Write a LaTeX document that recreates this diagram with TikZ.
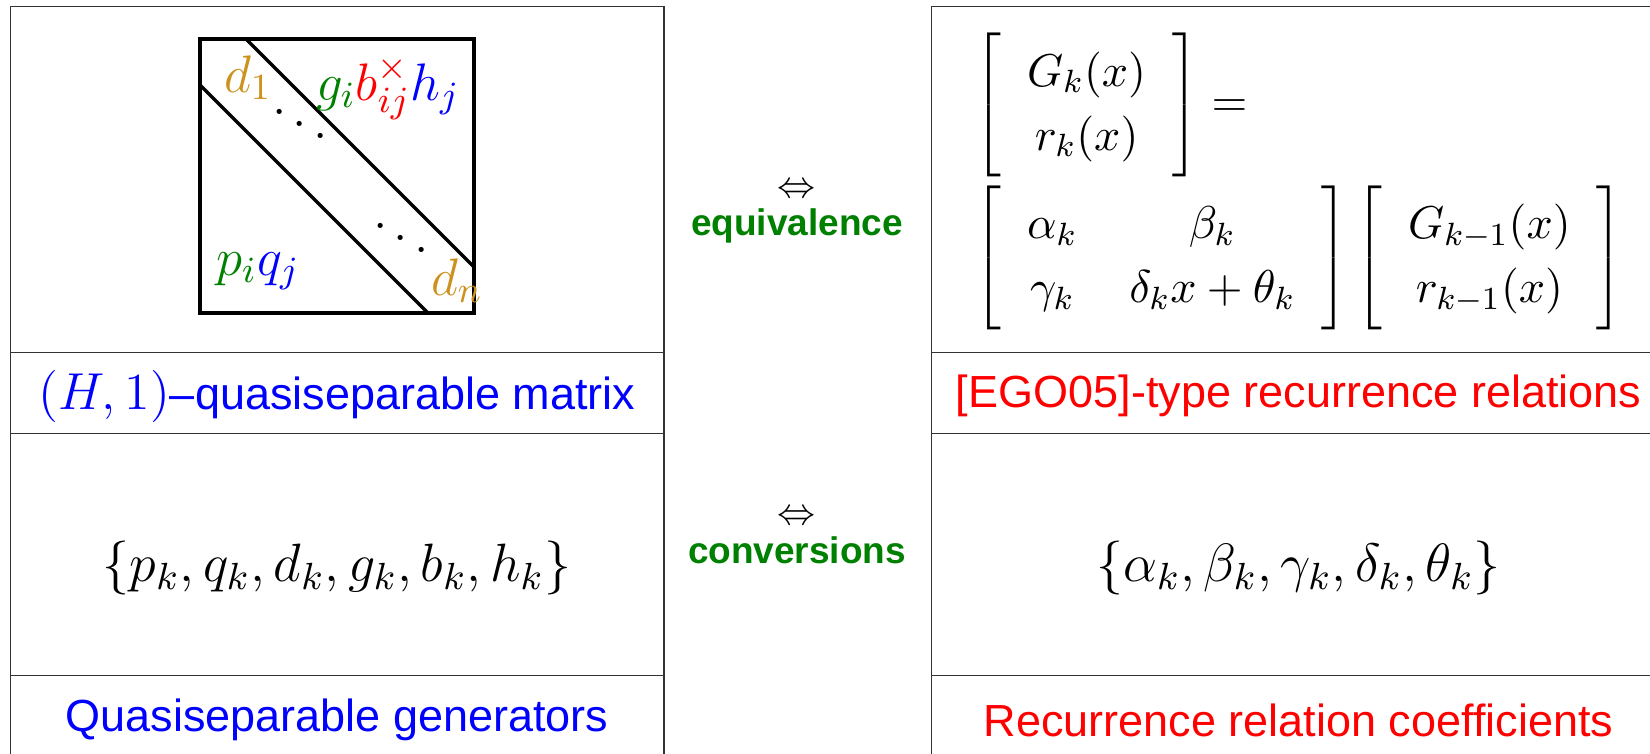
\RequirePackage{fix-cm}
\documentclass[tikz,border=0pt]{standalone}
\usepackage{fontspec}
\setsansfont{Liberation Sans}
\usetikzlibrary{positioning}

\definecolor{grn}{RGB}{0,128,0}
\definecolor{gld}{RGB}{205,145,30}
\newcommand\eqset{\arraycolsep=6.5pt\relax\delimiterfactor=1000\relax\delimitershortfall=0pt\relax}

\begin{document}
\begin{tikzpicture}[x=0.25pt,y=-0.25pt,
    cell/.style={draw=black!80,line width=0.4pt},
    ttl/.style={inner sep=0pt,font=\fontsize{11.25}{13.5}\sffamily},
    gen/.style={inner sep=0pt,font=\fontsize{13.5}{16}\selectfont},
    lbl/.style={inner sep=0pt,anchor=base,font=\fontsize{13.2}{15}\selectfont},
    rel/.style={inner sep=0pt,text=grn,font=\fontsize{9.25}{11}\sffamily\bfseries},
    eqn/.style={inner sep=0pt,font=\fontsize{11.5}{16}\selectfont}]
    \useasboundingbox (0,0) rectangle (1650,753);
    \clip (0,0) rectangle (1650,753);
    %
    % table
    \draw[cell] (10.5,6.3) rectangle (664,790);
    \draw[cell] (931.3,6.3) rectangle (1690,790);
    \foreach \y in {352.5,433.5,675.6}{
        \draw[cell] (10.5,\y) -- (664,\y);
        \draw[cell] (931.3,\y) -- (1690,\y);
    }
    %
    % the matrix
    \coordinate (M1) at (200,39);
    \coordinate (M2) at (474,313);
    \coordinate (U1) at (246,39);
    \coordinate (U2) at (474,267);
    \coordinate (D1) at (200,85);
    \coordinate (D2) at (428,313);
    \begin{scope}[thick]
        \draw (M1) rectangle (M2);
        \draw (U1) -- (U2);
        \draw (D1) -- (D2);
    \end{scope}
    \node[lbl,text=gld] (d1) at (248,92) {$d_1$};
    \node[lbl] (gbh) at (388,100) {$\color{grn}g_i\color{red}b_{ij}^{\times}\color{blue}h_j$};
    \node[lbl] (pq) at (258,275) {$\color{grn}p_i\color{blue}q_j$};
    \node[lbl,text=gld] (dn) at (457,295) {$d_n$};
    \node[lbl,anchor=center] (dd1) at (300,112) {$\ddots$};
    \node[lbl,anchor=center] (dd2) at (401,226) {$\ddots$};
    %
    % left column
    \node[ttl,text=blue] (lname) at (337,396) {{\fontsize{13}{15}\selectfont$(H,1)$}–quasiseparable matrix};
    \node[gen] (lgen) at (337,568) {$\{p_k,q_k,d_k,g_k,b_k,h_k\}$};
    \node[ttl,text=blue] (lgtl) at (337,720) {Quasiseparable generators};
    %
    % middle
    \node[rel] (eqv) at (797,226) {equivalence};
    \node[inner sep=0pt,font=\fontsize{9.25}{11}\selectfont,above=2.5pt of eqv] (eqvarr) {$\Leftrightarrow$};
    \node[rel] (cnv) at (797,550) {conversions};
    \node[inner sep=0pt,font=\fontsize{9.25}{11}\selectfont,above=2.5pt of cnv] (cnvarr) {$\Leftrightarrow$};
    %
    % right column
    \node[eqn,anchor=north] (eqbot) at (1299,185) {\eqset$\left[\begin{array}{cc} \alpha_k & \beta_k\\ \gamma_k & \delta_k x+\theta_k\end{array}\right]\left[\begin{array}{c} G_{k-1}(x)\\ r_{k-1}(x)\end{array}\right]$};
    \node[eqn,above=1.75pt of eqbot.north west,anchor=south west] (eqtop) {\eqset$\left[\begin{array}{c} G_k(x)\\ r_k(x)\end{array}\right]=$};
    \node[ttl,text=red] (rname) at (1298.6,396) {[EGO05]-type recurrence relations};
    \node[gen] (rgen) at (1298.6,568) {$\{\alpha_k,\beta_k,\gamma_k,\delta_k,\theta_k\}$};
    \node[ttl,text=red] (rgtl) at (1298.6,720) {Recurrence relation coefficients};
    %
\end{tikzpicture}
\end{document}
